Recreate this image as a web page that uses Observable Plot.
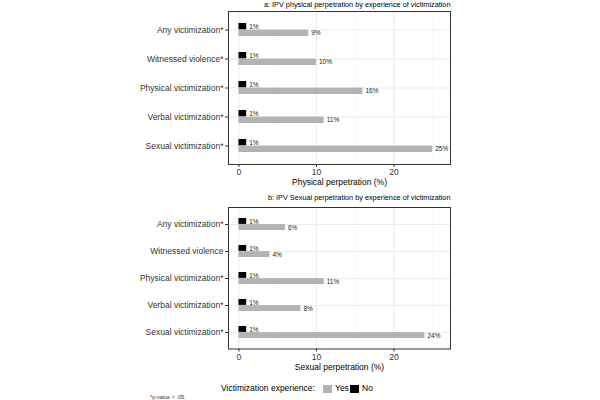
<!DOCTYPE html>
<html>
<head>
<meta charset="utf-8">
<script src="https://cdn.jsdelivr.net/npm/d3@7"></script>
<script src="https://cdn.jsdelivr.net/npm/@observablehq/plot@0.6"></script>
<style>
  html, body { margin: 0; padding: 0; background: #fff; }
  body { width: 600px; height: 400px; position: relative; overflow: hidden;
         font-family: "Liberation Sans", Arial, sans-serif; }
  .abs { position: absolute; }
  .leg { position: absolute; font-size: 8.5px; color: #000; line-height: 1; }
  .sw { position: absolute; width: 9px; height: 8px; }
</style>
</head>
<body>
<div id="pa" class="abs" style="left:0;top:0"></div>
<div id="pb" class="abs" style="left:0;top:190px"></div>
<div class="leg" style="left:221px;top:384px">Victimization experience:</div>
<div class="sw" style="left:323px;top:385px;background:#b3b3b3"></div>
<div class="leg" style="left:335px;top:384px">Yes</div>
<div class="sw" style="left:350px;top:385px;background:#000"></div>
<div class="leg" style="left:362px;top:384px">No</div>
<div class="leg" style="left:150px;top:394.5px;font-size:5.5px;color:#333">*p-value &lt; .05.</div>
<script>
// ---- data ----
const categoriesA = ["Any victimization*", "Witnessed violence*", "Physical victimization*", "Verbal victimization*", "Sexual victimization*"];
const categoriesB = ["Any victimization*", "Witnessed violence", "Physical victimization*", "Verbal victimization*", "Sexual victimization*"];
const physYes = [9, 10, 16, 11, 25];
const physNo  = [1, 1, 1, 1, 1];
const sexYes  = [6, 4, 11, 8, 24];
const sexNo   = [1, 1, 1, 1, 1];
const xTicks = [0, 10, 20];
const xMinor = [5, 15, 25];
const titleA = "a: IPV physical perpetration by experience of victimization";
const titleB = "b: IPV Sexual perpetration by experience of victimization";
const xLabelA = "Physical perpetration (%)";
const xLabelB = "Sexual perpetration (%)";

const GREY = "#b3b3b3";
const FONT = "Liberation Sans, Arial, sans-serif";

function panel({cats, yes, no, title, xlabel, height, mt, mb, titleDy}) {
  const yesData = cats.map((c, i) => ({cat: c, v: yes[i]}));
  const noData  = cats.map((c, i) => ({cat: c, v: no[i]}));
  const pi = 0.55, po = 0.375;
  const innerH = height - mt - mb;
  const step = innerH / (cats.length - pi + 2 * po);
  const bw = step * (1 - pi);
  const half = bw / 2;
  return Plot.plot({
    width: 600, height,
    marginLeft: 228, marginRight: 150, marginTop: mt, marginBottom: mb,
    style: {fontFamily: FONT, background: "#fff", overflow: "visible"},
    x: {domain: [-1.35, 27.3]},
    y: {domain: cats, type: "band", paddingInner: pi, paddingOuter: po},
    marks: [
      Plot.ruleX(xMinor, {stroke: "#f2f2f2", strokeWidth: 0.5}),
      Plot.gridX({ticks: xTicks, stroke: "#e6e6e6", strokeOpacity: 1, strokeWidth: 0.8}),
      Plot.gridY({stroke: "#e6e6e6", strokeOpacity: 1, strokeWidth: 0.8}),
      Plot.barX(noData, {x: "v", y: "cat", fill: "#000", insetBottom: half, insetTop: 0}),
      Plot.barX(yesData, {x: "v", y: "cat", fill: GREY, insetTop: half, insetBottom: 0}),
      Plot.text(noData, {x: "v", y: "cat", text: d => d.v + "%", dy: -half / 2, dx: 2.5, textAnchor: "start", fontSize: 6.5, fill: "#222"}),
      Plot.text(yesData, {x: "v", y: "cat", text: d => d.v + "%", dy: half / 2, dx: 2.5, textAnchor: "start", fontSize: 6.5, fill: "#222"}),
      Plot.frame({stroke: "#333", strokeWidth: 1}),
      Plot.axisX({ticks: xTicks, tickSize: 3, tickPadding: 1.5, fontSize: 8.5, color: "#333", label: null}),
      Plot.axisY({tickSize: 3, tickPadding: 2, fontSize: 8.5, color: "#333", label: null}),
      Plot.text([xlabel], {frameAnchor: "bottom", dy: 18, fontSize: 8.5, fill: "#000", lineAnchor: "middle"}),
      Plot.text([title], {frameAnchor: "top-right", textAnchor: "end", lineAnchor: "middle", dy: titleDy, dx: 0, fontSize: 7.3, fill: "#000"})
    ]
  });
}

document.getElementById("pa").append(panel({
  cats: categoriesA, yes: physYes, no: physNo, title: titleA, xlabel: xLabelA,
  height: 190, mt: 11, mb: 26, titleDy: -7
}));
document.getElementById("pb").append(panel({
  cats: categoriesB, yes: sexYes, no: sexNo, title: titleB, xlabel: xLabelB,
  height: 210, mt: 17, mb: 51.5, titleDy: -9.5
}));
</script>
</body>
</html>
